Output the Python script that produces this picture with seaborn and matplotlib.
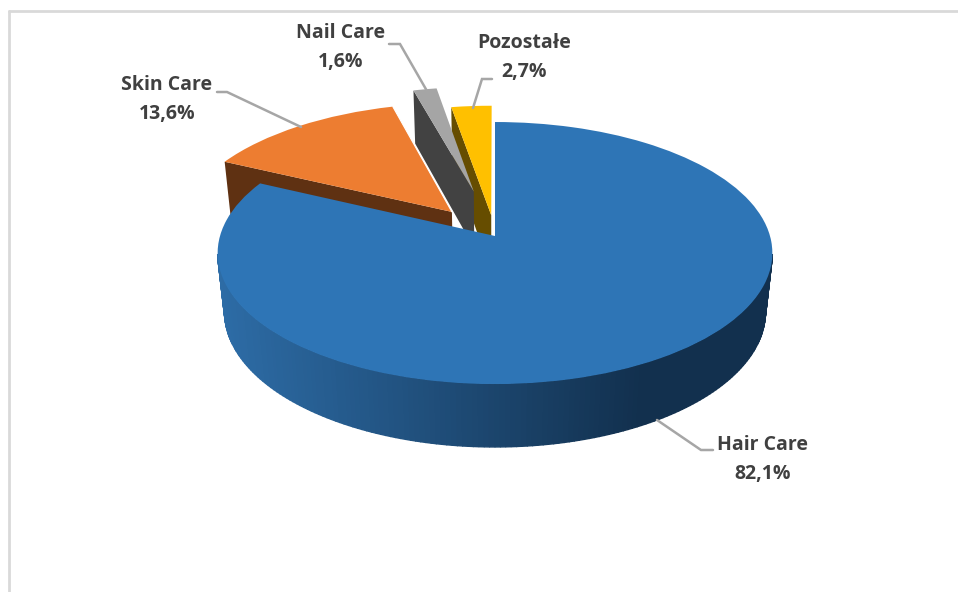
import numpy as np
import matplotlib
matplotlib.use("Agg")
import matplotlib.pyplot as plt
import seaborn as sns
from matplotlib.transforms import Transform

# --- data ---
categories = ["Hair Care", "Skin Care", "Nail Care", "Pozostałe"]
shares = [82.1, 13.6, 1.6, 2.7]

# --- style ---
top_colors = ["#2e75b6", "#ed7d31", "#a5a5a5", "#ffc000"]
face_colors = [None, "#5f3112", "#424242", "#664d00"]
explode = [0, 0.25, 0.37, 0.165]

sns.set_theme(style="white")
plt.rcParams["font.family"] = ["Open Sans", "DejaVu Sans"]

# camera of the 3d pie, fitted in pixels
CX, CY = 495, 236
A, B, D = 275, 128.8, 60
K, M = 0.13, 0.025


def project(u, v, z=0.0):
    w = 1 + K * v + M * z
    return CX + A * u / w, CY - (B * v - D * z) / w


class PieProjection(Transform):
    input_dims = 2
    output_dims = 2
    is_affine = False

    def transform_non_affine(self, values):
        values = np.asarray(values)
        px, py = project(values[:, 0], values[:, 1])
        return np.column_stack([px, py])


def rim(wedge, theta):
    rad = np.deg2rad(theta)
    return (wedge.center[0] + wedge.r * np.cos(rad),
            wedge.center[1] + wedge.r * np.sin(rad))


def draw_face(ax, wedge, color, zorder):
    # the cut side of an exploded slice
    u, v = rim(wedge, wedge.theta2)
    cu, cv = wedge.center
    pts = [project(u, v), project(cu, cv), project(cu, cv, 1), project(u, v, 1)]
    ax.fill(*zip(*pts), color=color, lw=0, zorder=zorder)


def draw_wall(ax, wedge, zorder):
    # outer wall of the big slice, dark towards the right
    shades = sns.blend_palette(["#2d6ca6", "#12304e"], n_colors=256)
    angles = np.linspace(-172, -8, 165)
    for t0, t1 in zip(angles[:-1], angles[1:]):
        u0, v0 = rim(wedge, t0)
        u1, v1 = rim(wedge, t1)
        pts = [project(u0, v0), project(u1, v1), project(u1, v1, 1), project(u0, v0, 1)]
        frac = np.clip((pts[0][0] - 218) / (640 - 218), 0, 1)
        col = shades[int(frac * 255)]
        ax.fill(*zip(*pts), facecolor=col, edgecolor=col, lw=1.0, zorder=zorder)


fig = plt.figure(figsize=(9.58, 5.92), dpi=100)
ax = fig.add_axes([0, 0, 1, 1])

wedges, _ = ax.pie(shares, explode=explode, colors=top_colors, startangle=90,
                   counterclock=False, wedgeprops={"linewidth": 0})

# back to front: yellow, grey, orange, blue
order = {3: 1, 2: 3, 1: 5}
for i, z in order.items():
    draw_face(ax, wedges[i], face_colors[i], z)
    wedges[i].set_zorder(z + 1)
draw_wall(ax, wedges[0], 7)
wedges[0].set_zorder(8)

to_pixels = PieProjection() + ax.transData
for w in wedges:
    w.set_transform(to_pixels)

# thin white edge on the right of the orange slice
edge_u, edge_v = rim(wedges[1], wedges[1].theta1)
p0 = project(edge_u, edge_v)
p1 = project(*wedges[1].center)
ax.plot([p0[0], p1[0]], [p0[1], p1[1]], color="white", lw=0.8, zorder=6.5)

# leader lines
leaders = [
    ([657, 701, 713], [420, 450, 450]),
    ([217, 227, 301], [92, 92, 127]),
    ([389, 400, 427], [44, 44, 91]),
    ([492, 482, 473], [79, 79, 108]),
]
for xs, ys in leaders:
    ax.plot(xs, ys, color="#a6a6a6", lw=1.8, zorder=9, solid_joinstyle="miter")

# labels
label_pos = [(763, 459), (167, 100), (341, 47), (524, 58)]
for name, val, (lx, ly) in zip(categories, shares, label_pos):
    txt = f"{name}\n{val:.1f}%".replace(".", ",")
    ax.text(lx, ly, txt, ha="center", va="center", fontsize=14, fontweight="bold",
            color="#404040", linespacing=1.6, zorder=10)

# chart frame, cropped on the right and bottom
ax.plot([9, 958], [11, 11], color="#d9d9d9", lw=2, zorder=0)
ax.plot([9, 9], [11, 592], color="#d9d9d9", lw=2, zorder=0)

ax.set_aspect("auto")
ax.set_xlim(0, 958)
ax.set_ylim(592, 0)

plt.savefig("out.png", dpi=100)
plt.close()
